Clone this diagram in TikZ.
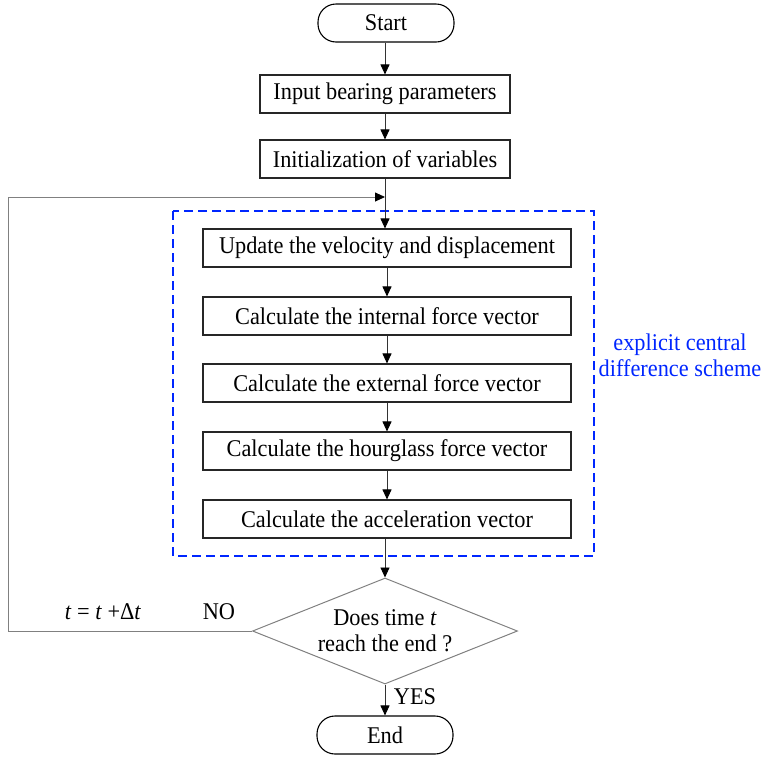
\documentclass[tikz,border=0pt]{standalone}
\usepackage{fontspec}
\setmainfont{Liberation Serif}[FakeStretch=0.93]
\usetikzlibrary{arrows.meta,shapes.geometric}
\begin{document}
\begin{tikzpicture}[x=1pt,y=-1pt,
  every node/.style={font=\fontsize{24}{26}\selectfont},
  procbox/.style={draw=black!85, line width=1.1pt, minimum height=38pt, inner sep=0pt, align=center},
  termbox/.style={draw=black, line width=1.1pt, rounded corners=18pt, minimum width=136pt, minimum height=38pt, inner sep=0pt},
  decbox/.style={draw=black!50, line width=1pt, shape=diamond, aspect=2.5, minimum width=265pt, minimum height=106pt, inner sep=0pt, align=center},
  flow/.style={draw=black!80, line width=0.9pt, -{Triangle[length=10pt,width=9pt,color=black]}},
  loopline/.style={draw=black!50, line width=0.9pt, -{Triangle[length=10pt,width=9pt,color=black]}},
  grp/.style={draw=blue!85!cyan, line width=1.8pt, dash pattern=on 9pt off 5pt},
  bluetext/.style={text=blue!85!cyan, align=center}
]
\useasboundingbox (0,0) rectangle (764,756);
\node[termbox] (start) at (386,23) {Start};
\node[procbox, minimum width=250pt] (inp) at (385,94) {Input bearing parameters};
\node[procbox, minimum width=250pt] (ini) at (385,159) {Initialization of variables};
\node[procbox, minimum width=368pt] (upd) at (387,248) {Update the velocity and displacement};
\node[procbox, minimum width=368pt] (int) at (387,316) {Calculate the internal force vector};
\node[procbox, minimum width=368pt] (ext) at (387,383) {Calculate the external force vector};
\node[procbox, minimum width=368pt] (hrg) at (387,451) {Calculate the hourglass force vector};
\node[procbox, minimum width=368pt] (acc) at (387,519) {Calculate the acceleration vector};
\node[decbox] (dec) at (385,631) {Does time \textit{t}\\reach the end ?};
\node[termbox] (fin) at (385,735) {End};
\draw[grp] (173,211) rectangle (594,556);
\node[bluetext] (sch) at (680,355) {explicit central\\difference scheme};
\node (dt) at (103,612) {\textit{t} = \textit{t} +Δ\textit{t}};
\node (no) at (219,612) {NO};
\node (yes) at (415,697) {YES};
\coordinate (lp) at (385,197);
\coordinate (lc) at (8,197);
\draw[flow] (start.south -| inp.north) -- (inp);
\draw[flow] (inp) -- (ini);
\draw[flow] (ini.south) -- (ini.south |- upd.north);
\draw[flow] (upd.south -| int.north) -- (int);
\draw[flow] (int) -- (ext);
\draw[flow] (ext) -- (hrg);
\draw[flow] (hrg) -- (acc);
\draw[flow] (acc.south -| dec.north) -- (dec.north);
\draw[flow] (dec.south) -- (fin.north);
\draw[loopline] (dec.west) -| (lc) -- (lp);
\end{tikzpicture}
\end{document}
